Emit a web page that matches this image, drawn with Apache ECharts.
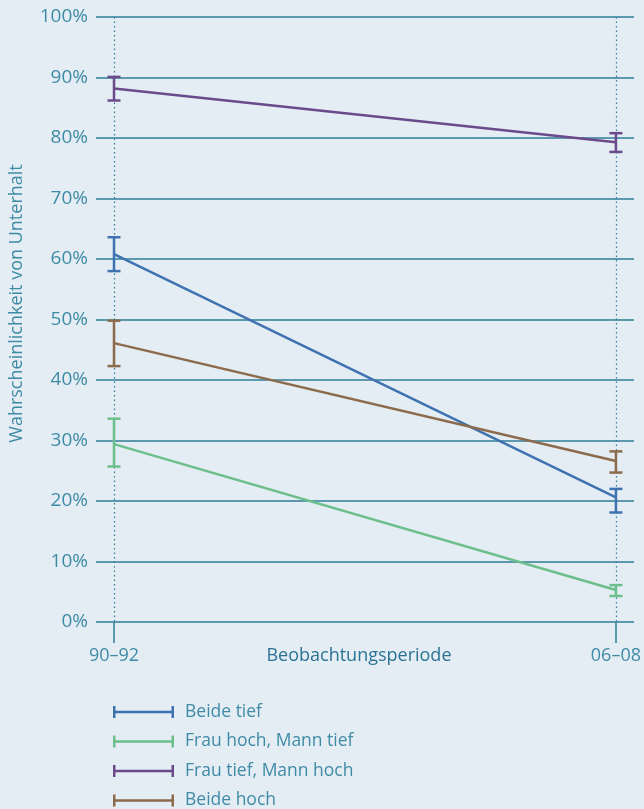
<!DOCTYPE html>
<html>
<head>
<meta charset="utf-8">
<script src="https://cdn.jsdelivr.net/npm/echarts@6/dist/echarts.min.js"></script>
<style>
  html, body { margin: 0; padding: 0; background: #e4edf3; }
  #chart { width: 644px; height: 809px; }
</style>
</head>
<body>
<div id="chart"></div>
<script>
// Perioden (x-Achse)
var periods = ['90–92', '06–08']
var yTicks = [0, 100, 10]  // min, max, Schritt

// Reihen
var names = ['Beide tief', 'Frau hoch, Mann tief', 'Frau tief, Mann hoch', 'Beide hoch']
var colors = ['#3f72b0', '#6cbf8b', '#6b4a8c', '#8b6b4b']

// Werte in Prozent
var beideTief = [60.8, 20.6]
var beideTiefLow = [58.0, 18.1]
var beideTiefHigh = [63.6, 22.0]

var frauHoch = [29.4, 5.3]
var frauHochLow = [25.7, 4.3]
var frauHochHigh = [33.6, 6.1]

var mannHoch = [88.2, 79.3]
var mannHochLow = [86.2, 77.7]
var mannHochHigh = [90.1, 80.8]

var beideHoch = [46.1, 26.6]
var beideHochLow = [42.3, 24.7]
var beideHochHigh = [49.8, 28.2]

var values = [beideTief, frauHoch, mannHoch, beideHoch]
var lows = [beideTiefLow, frauHochLow, mannHochLow, beideHochLow]
var highs = [beideTiefHigh, frauHochHigh, mannHochHigh, beideHochHigh]

var teal = '#3f8ba6'
var lineTeal = '#2f7d99'
var font = 'Open Sans'

var chart = echarts.init(document.getElementById('chart'))

// Fehlerbalken als custom series
function errorRender (color) {
  return function (params, api) {
    var top = api.coord([api.value(0), api.value(2)])
    var bot = api.coord([api.value(0), api.value(1)])
    var half = 6.5
    var style = { stroke: color, lineWidth: 2.5, fill: null }
    return {
      type: 'group',
      children: [
        { type: 'line', shape: { x1: top[0], y1: top[1], x2: bot[0], y2: bot[1] }, style: style },
        { type: 'line', shape: { x1: top[0] - half, y1: top[1], x2: top[0] + half, y2: top[1] }, style: style },
        { type: 'line', shape: { x1: bot[0] - half, y1: bot[1], x2: bot[0] + half, y2: bot[1] }, style: style }
      ]
    }
  }
}

var series = []
names.forEach(function (name, i) {
  series.push({
    name: name,
    type: 'line',
    xAxisIndex: 0,
    yAxisIndex: 0,
    showSymbol: false,
    symbol: 'none',
    color: colors[i],
    lineStyle: { width: 2.5, color: colors[i] },
    data: values[i],
    z: 3
  })
  series.push({
    name: name,
    type: 'custom',
    xAxisIndex: 0,
    yAxisIndex: 0,
    color: colors[i],
    renderItem: errorRender(colors[i]),
    encode: { x: 0, y: [1, 2] },
    data: periods.map(function (p, j) { return [j, lows[i][j], highs[i][j]] }),
    z: 4
  })
})

var legendIcon = 'path://M0,0H2.5V4.8H58.5V0H61V12H58.5V7.2H2.5V12H0Z'

chart.setOption({
  backgroundColor: '#e4edf3',
  textStyle: { fontFamily: font },
  animation: false,
  legend: {
    orient: 'vertical',
    left: 113,
    top: 703,
    height: 160,
    padding: 0,
    itemWidth: 61,
    itemHeight: 12,
    itemGap: 11.5,
    icon: legendIcon,
    selectedMode: false,
    textStyle: { color: teal, fontSize: 17.5, fontFamily: font, padding: [0, 0, 0, 6] },
    data: names.map(function (n) { return { name: n, icon: legendIcon } })
  },
  grid: [
    // Datenbereich
    { left: 114, right: 28, top: 17, bottom: 187 },
    // Hilfsbereich für die horizontalen Linien
    { left: 94, right: 10, top: 17, bottom: 187 }
  ],
  xAxis: [
    {
      gridIndex: 0,
      type: 'category',
      data: periods,
      boundaryGap: false,
      name: 'Beobachtungsperiode',
      nameLocation: 'middle',
      nameGap: 25,
      nameMoveOverlap: false,
      nameTextStyle: { color: '#2a7394', fontSize: 18, fontFamily: font, padding: [0, 12, 0, 0] },
      axisLine: { show: false },
      axisTick: { show: true, length: 21, alignWithLabel: true, lineStyle: { color: lineTeal, width: 1.5 } },
      axisLabel: { color: teal, fontSize: 18, margin: 25 },
      splitLine: { show: true, lineStyle: { color: lineTeal, type: [1.5, 3], width: 1.2 } }
    },
    {
      gridIndex: 1,
      type: 'value',
      show: false
    }
  ],
  yAxis: [
    {
      gridIndex: 0,
      type: 'value',
      min: yTicks[0],
      max: yTicks[1],
      interval: yTicks[2],
      show: false,
      splitLine: { show: false }
    },
    {
      gridIndex: 1,
      type: 'value',
      min: yTicks[0],
      max: yTicks[1],
      interval: yTicks[2],
      name: 'Wahrscheinlichkeit von Unterhalt',
      nameLocation: 'middle',
      nameGap: 70,
      nameMoveOverlap: false,
      nameTextStyle: { color: teal, fontSize: 18, fontFamily: font, padding: [0, 0, 0, 32] },
      axisLine: { show: false },
      axisTick: { show: false },
      axisLabel: { color: teal, fontSize: 19, margin: 8, formatter: '{value}%' },
      splitLine: { show: true, lineStyle: { color: lineTeal, width: 1.5 } }
    }
  ],
  series: series
})
</script>
</body>
</html>
